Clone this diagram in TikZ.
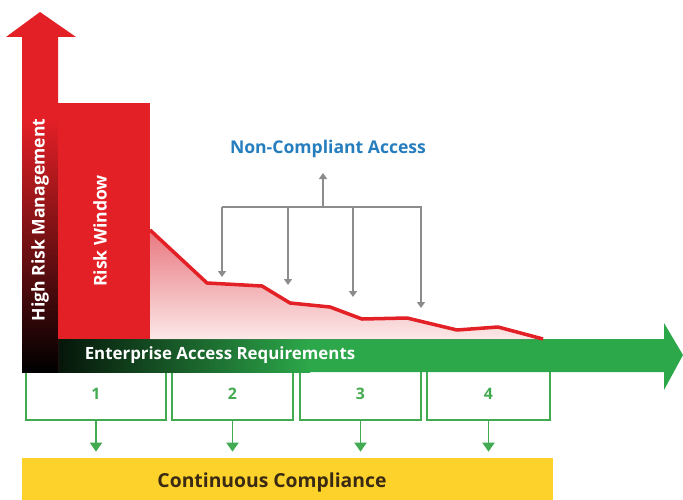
\documentclass[tikz,border=0pt]{standalone}
\usepackage{fontspec}
\setmainfont{Open Sans}
\usetikzlibrary{arrows.meta}

\definecolor{riskred}{RGB}{227,32,38}
\definecolor{axisgreen}{RGB}{44,168,74}
\definecolor{boxgreen}{RGB}{66,170,80}
\definecolor{ccyellow}{RGB}{253,210,42}
\definecolor{ncblue}{RGB}{38,126,190}
\definecolor{bracketgray}{RGB}{140,140,140}
\definecolor{areatop}{RGB}{232,120,128}
\definecolor{areabottom}{RGB}{252,232,232}
\definecolor{cctext}{RGB}{58,42,20}

\begin{document}
\begin{tikzpicture}[
      white_label/.style={text=white, inner sep=0pt, font=\fontsize{10}{12}\selectfont\bfseries},
      req_box/.style={draw=boxgreen, line width=1pt, minimum height=1.04cm, inner sep=0pt, text=boxgreen, font=\fontsize{9}{11}\selectfont\bfseries},
      gray_line/.style={draw=bracketgray, line width=1pt},
      gray_arrow/.style={gray_line, -{Triangle[length=0.12cm,width=0.16cm]}},
      green_arrow/.style={draw=boxgreen, line width=1.1pt, -{Triangle[length=0.18cm,width=0.24cm]}},
      cc_box/.style={fill=ccyellow, minimum width=10.62cm, minimum height=0.92cm, inner sep=0pt}
    ]

    % ------------------------------------------------------------------ %
    % Picture frame
    % ------------------------------------------------------------------ %

    \fill[white] (0cm,0cm) rectangle (13.66cm,9.98cm);
    \useasboundingbox (0cm,0cm) rectangle (13.66cm,9.98cm);


    % ------------------------------------------------------------------ %
    % Requirement boxes (below the axis)
    % ------------------------------------------------------------------ %

    \node[req_box, minimum width=2.80cm] (b1) at (1.92cm,2.10cm) {1};
    \node[req_box, minimum width=2.42cm] (b2) at (4.65cm,2.10cm) {2};
    \node[req_box, minimum width=2.42cm] (b3) at (7.21cm,2.10cm) {3};
    \node[req_box, minimum width=2.46cm] (b4) at (9.77cm,2.10cm) {4};

    % continuous compliance bar
    \node[cc_box] (cc) at (5.75cm,0.36cm) {};
    \node[text=cctext, font=\fontsize{11}{13}\selectfont\bfseries] (cct) at (5.44cm,0.34cm) {Continuous Compliance};

    % arrows into the bar
    \foreach \b in {b1,b2,b3,b4}
      \draw[green_arrow, shorten >=0.12cm] (\b.south) -- (\b.south |- cc.north);


    % ------------------------------------------------------------------ %
    % Axes
    % ------------------------------------------------------------------ %

    % horizontal arrow, dark at the origin
    \fill[axisgreen]
      (0.44cm,2.54cm) -- (13.28cm,2.54cm) -- (13.28cm,2.18cm) -- (13.66cm,2.88cm)
      -- (13.28cm,3.52cm) -- (13.28cm,3.20cm) -- (0.44cm,3.20cm) -- cycle;
    \shade[left color=black, right color=axisgreen] (0.44cm,2.54cm) rectangle (6.20cm,3.20cm);

    % vertical arrow, dark at the origin
    \fill[riskred]
      (0.44cm,2.54cm) -- (0.44cm,9.24cm) -- (0.12cm,9.24cm) -- (0.80cm,9.74cm)
      -- (1.52cm,9.24cm) -- (1.16cm,9.24cm) -- (1.16cm,2.54cm) -- cycle;
    \shade[bottom color=black, middle color=riskred!45!black, top color=riskred] (0.44cm,2.54cm) rectangle (1.16cm,7.60cm);


    % ------------------------------------------------------------------ %
    % Risk window and exposure curve
    % ------------------------------------------------------------------ %

    \fill[riskred] (1.16cm,3.20cm) rectangle (3.00cm,7.92cm);

    % shaded area under the curve
    \fill[top color=areatop, bottom color=areabottom]
      (3.00cm,3.20cm) -- (3.00cm,5.38cm) -- (4.14cm,4.32cm) -- (5.24cm,4.26cm)
      -- (5.80cm,3.92cm) -- (6.60cm,3.84cm) -- (7.24cm,3.60cm) -- (8.14cm,3.62cm)
      -- (9.14cm,3.38cm) -- (9.96cm,3.44cm) -- (10.86cm,3.20cm) -- cycle;

    % the curve itself
    \draw[riskred, line width=2pt, line join=round]
      (3.00cm,5.38cm) -- (4.14cm,4.32cm) -- (5.24cm,4.26cm) -- (5.80cm,3.92cm)
      -- (6.60cm,3.84cm) -- (7.24cm,3.60cm) -- (8.14cm,3.62cm) -- (9.14cm,3.38cm)
      -- (9.96cm,3.44cm) -- (10.86cm,3.20cm);


    % ------------------------------------------------------------------ %
    % Non-compliant access bracket
    % ------------------------------------------------------------------ %

    \node[text=ncblue, font=\fontsize{10}{12}\selectfont\bfseries] (nca) at (6.56cm,7.00cm) {Non-Compliant Access};

    \coordinate (br_l) at (4.44cm,5.84cm);
    \coordinate (br_r) at (8.44cm,5.84cm);
    \coordinate (br_m) at (6.46cm,5.84cm);
    \coordinate (nca_tip) at (6.46cm,6.52cm);

    \coordinate (t1) at (4.44cm,4.44cm);
    \coordinate (t2) at (5.76cm,4.28cm);
    \coordinate (t3) at (7.06cm,4.04cm);
    \coordinate (t4) at (8.42cm,3.82cm);

    \draw[gray_line] (br_l) -- (br_r);
    \draw[gray_arrow] (br_m) -- (nca_tip);
    \foreach \t in {t1,t2,t3,t4}
      \draw[gray_arrow] (\t |- br_l) -- (\t);


    % ------------------------------------------------------------------ %
    % Annotations
    % ------------------------------------------------------------------ %

    \node[white_label, rotate=90] (hrm) at (0.80cm,5.58cm) {High Risk Management};
    \node[white_label, rotate=90] (rw) at (2.00cm,5.36cm) {Risk Window};
    \node[white_label, font=\fontsize{9.6}{12}\selectfont\bfseries] (ear) at (4.40cm,2.88cm) {Enterprise Access Requirements};

\end{tikzpicture}
\end{document}
